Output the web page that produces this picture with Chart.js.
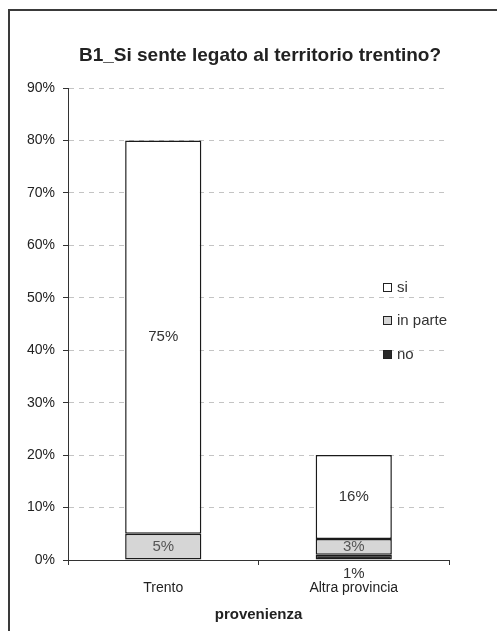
<!DOCTYPE html>
<html>
<head>
<meta charset="utf-8">
<script src="https://cdn.jsdelivr.net/npm/chart.js@4/dist/chart.umd.min.js"></script>
<style>
  html, body { margin: 0; padding: 0; background: #fff; overflow: hidden; }
  #frame { position: absolute; left: 8px; top: 9px; width: 700px; height: 800px; border: 2px solid #3a3a3a; }
  #wrap { position: absolute; left: 0; top: 0; width: 497px; height: 631px; }
</style>
</head>
<body>
<div id="frame"></div>
<div id="wrap"><canvas id="chart"></canvas></div>
<script>
const FONT = "'Liberation Sans', Arial, sans-serif";

const categories = ['Trento', 'Altra provincia'];
const noValues = [0, 1];
const inParteValues = [5, 3];
const siValues = [75, 16];
const yTicks = [0, 10, 20, 30, 40, 50, 60, 70, 80, 90];

const titleText = 'B1_Si sente legato al territorio trentino?';
const xTitle = 'provenienza';

// title, legend and value labels
const decorations = {
    id: 'decorations',
    afterDatasetsDraw(chart) {
        const ctx = chart.ctx;
        const area = chart.chartArea;
        ctx.save();

        ctx.fillStyle = '#222';
        ctx.font = 'bold 19px ' + FONT;
        ctx.textAlign = 'center';
        ctx.textBaseline = 'alphabetic';
        ctx.fillText(titleText, 260, 61);

        // value labels in the middle of each segment, tiny ones below the axis
        ctx.font = '15px ' + FONT;
        chart.data.datasets.forEach((ds, i) => {
            const meta = chart.getDatasetMeta(i);
            meta.data.forEach((bar, j) => {
                const v = ds.data[j];
                if (!v) return;
                const h = bar.base - bar.y;
                ctx.fillStyle = i === 1 ? '#555' : '#333';
                ctx.textBaseline = 'middle';
                if (h < 10) {
                    ctx.fillStyle = '#333';
                    ctx.fillText(v + '%', bar.x, area.bottom + 14);
                } else {
                    ctx.fillText(v + '%', bar.x, (bar.y + bar.base) / 2);
                }
            });
        });

        // legend, top to bottom: si, in parte, no
        const items = chart.data.datasets.slice().reverse();
        const ys = [288, 321, 355];
        ctx.textAlign = 'left';
        items.forEach((ds, k) => {
            const y = ys[k];
            ctx.fillStyle = ds.backgroundColor;
            ctx.fillRect(383.5, y - 4.5, 8, 8);
            ctx.strokeStyle = '#222';
            ctx.lineWidth = 1;
            ctx.strokeRect(383.5, y - 4.5, 8, 8);
            ctx.fillStyle = '#333';
            ctx.font = '15px ' + FONT;
            ctx.fillText(ds.label, 397, y);
        });

        ctx.restore();
    }
};

const ctx = document.getElementById('chart').getContext('2d');
const chart = new Chart(ctx, {
    type: 'bar',
    data: {
        labels: categories,
        datasets: [
            { label: 'no', data: noValues, backgroundColor: '#2a2a2a' },
            { label: 'in parte', data: inParteValues, backgroundColor: '#d6d6d6' },
            { label: 'si', data: siValues, backgroundColor: '#ffffff' }
        ]
    },
    options: {
        responsive: true,
        maintainAspectRatio: false,
        animation: false,
        events: [],
        layout: { padding: { top: 88, left: 0, right: 48, bottom: 0 } },
        datasets: {
            bar: {
                borderColor: '#1a1a1a',
                borderWidth: 1.5,
                borderSkipped: false,
                barPercentage: 0.4,
                categoryPercentage: 1
            }
        },
        scales: {
            x: {
                stacked: true,
                afterFit(scale) { scale.height = 71; },
                grid: {
                    drawOnChartArea: false,
                    tickLength: 5,
                    tickColor: '#333',
                    offset: true
                },
                border: { color: '#333', width: 1 },
                ticks: {
                    color: '#222',
                    padding: 15,
                    font: { family: FONT, size: 14 }
                },
                title: {
                    display: true,
                    text: xTitle,
                    color: '#222',
                    font: { family: FONT, size: 15, weight: 'bold' },
                    padding: { top: 0, bottom: 7 }
                }
            },
            y: {
                stacked: true,
                min: 0,
                max: 90,
                afterFit(scale) { scale.width = 68; },
                afterBuildTicks(scale) { scale.ticks = yTicks.map(v => ({ value: v })); },
                grid: {
                    color: '#c4c4c4',
                    tickColor: '#333',
                    tickLength: 5,
                    tickBorderDash: []
                },
                border: { color: '#333', width: 1, dash: [5, 5] },
                ticks: {
                    color: '#222',
                    padding: 8,
                    font: { family: FONT, size: 14 },
                    callback: v => v + '%'
                }
            }
        },
        plugins: {
            legend: { display: false },
            tooltip: { enabled: false }
        }
    },
    plugins: [decorations]
});
</script>
</body>
</html>
